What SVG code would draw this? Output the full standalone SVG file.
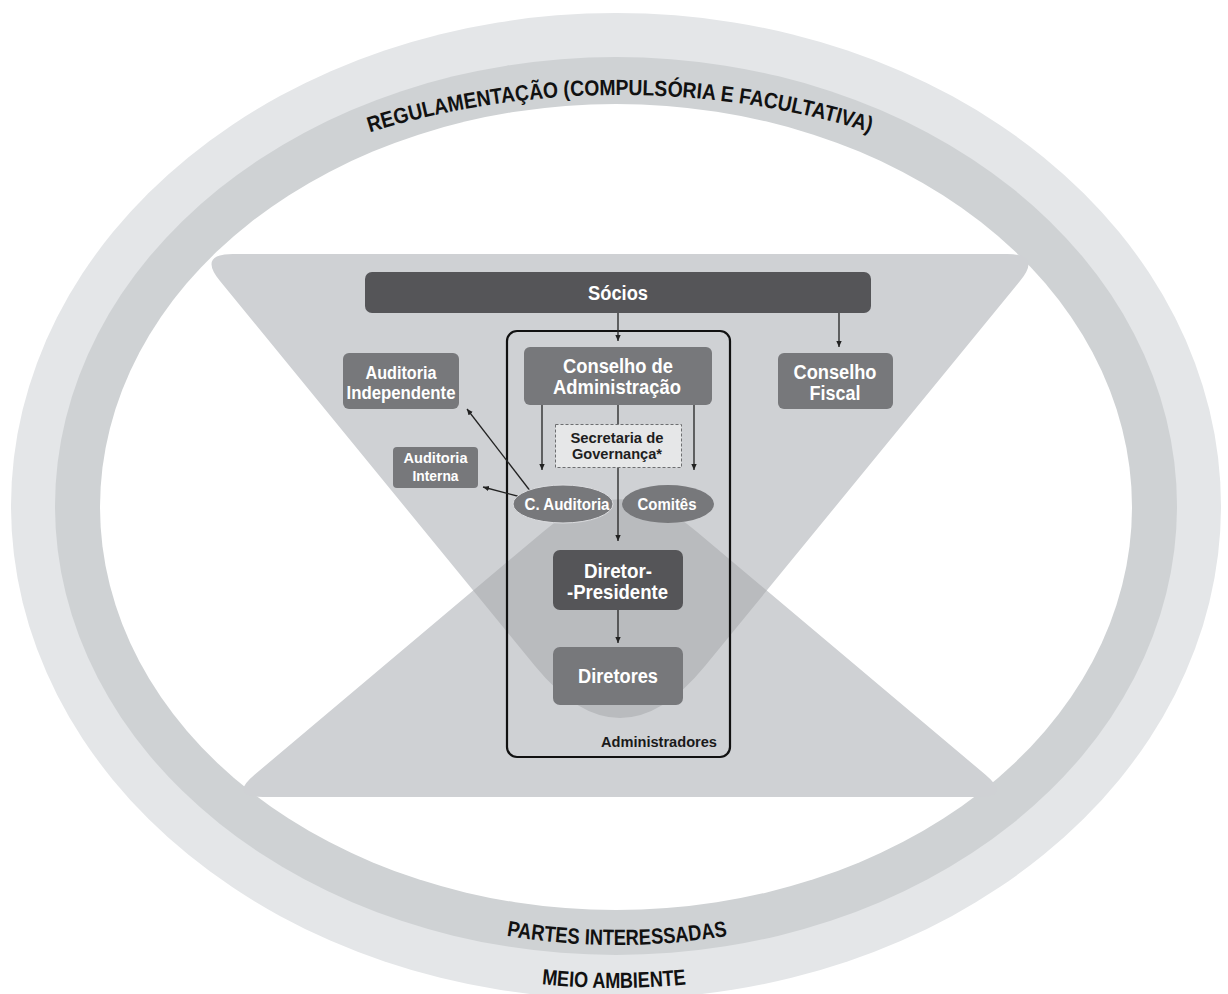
<svg xmlns="http://www.w3.org/2000/svg" width="1228" height="994" viewBox="0 0 1228 994">
<defs>
<style>
.box{fill:#77787b}
.dark{fill:#555558}
.t{font-family:"Liberation Sans",Arial,sans-serif;font-weight:bold;fill:#ffffff;text-anchor:middle}
.s{fill:#1e1e1e}
.ring{font-family:"Liberation Sans",Arial,sans-serif;font-weight:bold;fill:#111111;font-size:22px}
.ln{stroke:#222222;stroke-width:1.3;fill:none}
</style>
<marker id="ah" markerWidth="7" markerHeight="7" refX="6" refY="3" orient="auto" markerUnits="userSpaceOnUse"><path d="M0,0.3 L6,3 L0,5.7 Z" fill="#222222"/></marker>
<path id="upperShape" d="M233,254 L1007,254 Q1042,254 1020,281 L705,666 Q620,770 535,666 L220,281 Q198,254 233,254 Z"/>
<path id="lowerShape" d="M263,797 L977,797 Q1012,797 985.2,774.5 L696.5,531.4 Q620,467 543.5,531.4 L254.8,774.5 Q228,797 263,797 Z"/>
<clipPath id="upClip"><use href="#upperShape"/></clipPath>
<path id="topArc" d="M20,506 A600 411 0 0 1 1220,506"/>
<path id="botArc" d="M77,506 A540 439 0 0 0 1157,506"/>
<path id="meioArc" d="M34,506 A580 482 0 0 0 1194,506"/>
</defs>

<g id="background">
<ellipse cx="616" cy="506" rx="605" ry="493" fill="#e4e6e8"/>
<ellipse cx="616" cy="506" rx="561" ry="449" fill="#cfd2d4"/>
<ellipse cx="616" cy="507" rx="516" ry="403" fill="#ffffff"/>
<use href="#upperShape" fill="#cfd1d4"/>
<use href="#lowerShape" fill="#cfd1d4"/>
<use href="#lowerShape" fill="#b9bbbe" clip-path="url(#upClip)"/>
</g>

<g id="ring-labels">
<text class="ring"><textPath href="#topArc" startOffset="50%" text-anchor="middle" textLength="508" lengthAdjust="spacingAndGlyphs">REGULAMENTAÇÃO (COMPULSÓRIA E FACULTATIVA)</textPath></text>
<text class="ring"><textPath href="#botArc" startOffset="50%" text-anchor="middle" textLength="222" lengthAdjust="spacingAndGlyphs">PARTES INTERESSADAS</textPath></text>
<text class="ring"><textPath href="#meioArc" startOffset="50%" text-anchor="middle" textLength="145" lengthAdjust="spacingAndGlyphs">MEIO AMBIENTE</textPath></text>
</g>

<g id="administradores">
<rect x="507" y="331" width="223" height="426" rx="10" fill="none" stroke="#111111" stroke-width="2.2"/>
<text x="717" y="747" font-family="Liberation Sans, Arial, sans-serif" font-weight="bold" font-size="14.5" fill="#1a1a1a" text-anchor="end" textLength="116" lengthAdjust="spacingAndGlyphs">Administradores</text>
</g>

<g id="connectors">
<path class="ln" d="M618,313 V341" marker-end="url(#ah)"/>
<path class="ln" d="M839,313 V347" marker-end="url(#ah)"/>
<path class="ln" d="M542,405 V470" marker-end="url(#ah)"/>
<path class="ln" d="M694,405 V470" marker-end="url(#ah)"/>
<path class="ln" d="M618,405 V541" marker-end="url(#ah)"/>
<path class="ln" d="M618,610 V643" marker-end="url(#ah)"/>
<path class="ln" d="M531,492 L467,409" marker-end="url(#ah)"/>
<path class="ln" d="M521,497 L483,487" marker-end="url(#ah)"/>
</g>

<g id="socios">
<rect class="dark" x="365" y="272" width="506" height="41" rx="7"/>
<text class="t" x="618" y="300" font-size="20" textLength="60" lengthAdjust="spacingAndGlyphs">Sócios</text>
</g>

<g id="conselho-administracao">
<rect class="box" x="524" y="347" width="188" height="58" rx="6"/>
<text class="t" x="618" y="373" font-size="20" textLength="110" lengthAdjust="spacingAndGlyphs">Conselho de</text>
<text class="t" x="617" y="394" font-size="20" textLength="128" lengthAdjust="spacingAndGlyphs">Administração</text>
</g>

<g id="auditoria-independente">
<rect class="box" x="343" y="353" width="116" height="56" rx="6"/>
<text class="t" x="401" y="379" font-size="18" textLength="71" lengthAdjust="spacingAndGlyphs">Auditoria</text>
<text class="t" x="401" y="399" font-size="18" textLength="109" lengthAdjust="spacingAndGlyphs">Independente</text>
</g>

<g id="conselho-fiscal">
<rect class="box" x="778" y="353" width="115" height="56" rx="6"/>
<text class="t" x="835" y="379" font-size="20" textLength="83" lengthAdjust="spacingAndGlyphs">Conselho</text>
<text class="t" x="835" y="400" font-size="20" textLength="51" lengthAdjust="spacingAndGlyphs">Fiscal</text>
</g>

<g id="auditoria-interna">
<rect class="box" x="393" y="447" width="85" height="41" rx="4"/>
<text class="t" x="435.5" y="463" font-size="15" textLength="64" lengthAdjust="spacingAndGlyphs">Auditoria</text>
<text class="t" x="435.5" y="481" font-size="15" textLength="46" lengthAdjust="spacingAndGlyphs">Interna</text>
</g>

<g id="secretaria-governanca">
<rect x="555.5" y="424.5" width="126" height="43" fill="#e6e7e8" stroke="#6d6e70" stroke-width="1" stroke-dasharray="3,2"/>
<text class="t s" x="617" y="443" font-size="15.5" textLength="93" lengthAdjust="spacingAndGlyphs">Secretaria de</text>
<text class="t s" x="617" y="459" font-size="15.5" textLength="90" lengthAdjust="spacingAndGlyphs">Governança*</text>
</g>

<g id="c-auditoria">
<ellipse class="box" cx="563" cy="504" rx="50" ry="19" stroke="#dcdde0" stroke-width="1"/>
<text class="t" x="567" y="510" font-size="16" textLength="85" lengthAdjust="spacingAndGlyphs">C. Auditoria</text>
</g>

<g id="comites">
<ellipse class="box" cx="668" cy="504" rx="46" ry="19"/>
<text class="t" x="667" y="510" font-size="16" textLength="59" lengthAdjust="spacingAndGlyphs">Comitês</text>
</g>

<g id="diretor-presidente">
<rect class="dark" x="553" y="550" width="130" height="60" rx="7"/>
<text class="t" x="618" y="578" font-size="20.5" textLength="68" lengthAdjust="spacingAndGlyphs">Diretor-</text>
<text class="t" x="617.5" y="599" font-size="20.5" textLength="101" lengthAdjust="spacingAndGlyphs">-Presidente</text>
</g>

<g id="diretores">
<rect class="box" x="553" y="647" width="130" height="58" rx="7"/>
<text class="t" x="618" y="683" font-size="20" textLength="80" lengthAdjust="spacingAndGlyphs">Diretores</text>
</g>
</svg>
